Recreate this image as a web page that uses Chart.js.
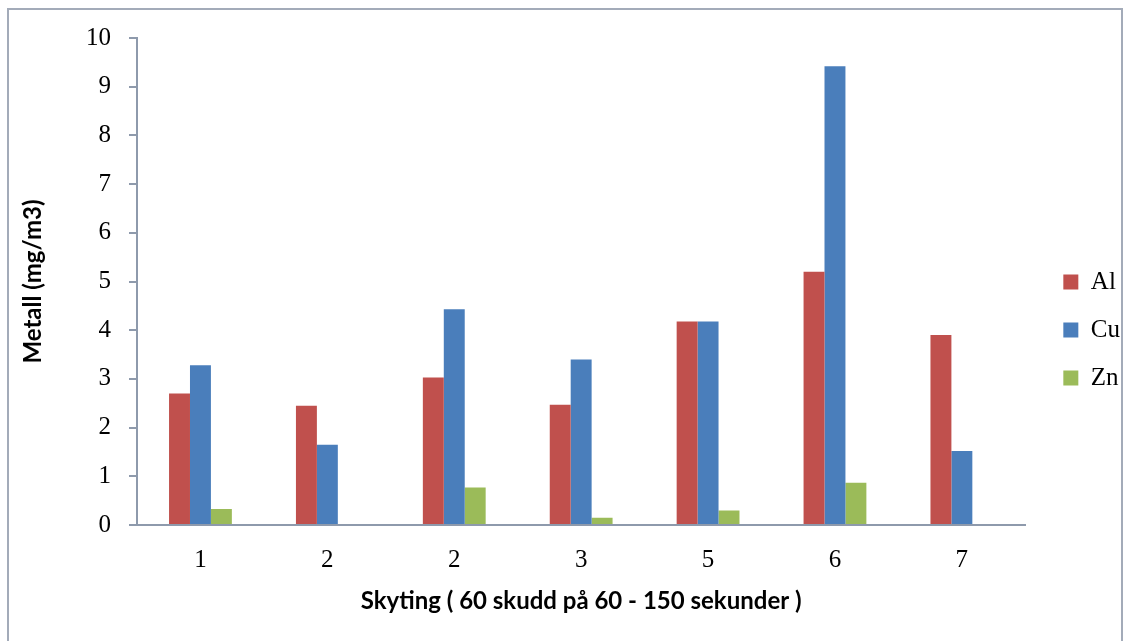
<!DOCTYPE html>
<html>
<head>
<meta charset="utf-8">
<script src="https://cdn.jsdelivr.net/npm/chart.js@4"></script>
<style>
  html, body { margin: 0; padding: 0; background: #fff; overflow: hidden; }
  #frame { position: absolute; left: 7px; top: 8px; width: 1112px; height: 700px; border: 2px solid #A3ABB9; }
  #wrap { position: absolute; left: 0; top: 0; width: 1130px; height: 641px; }
</style>
</head>
<body>
<div id="frame"></div>
<div id="wrap"><canvas id="myChart"></canvas></div>
<script>
const categories = ['1', '2', '2', '3', '5', '6', '7'];
const alValues = [2.70, 2.45, 3.03, 2.47, 4.18, 5.20, 3.90];
const cuValues = [3.28, 1.65, 4.43, 3.40, 4.18, 9.42, 1.52];
const znValues = [0.33, 0, 0.77, 0.15, 0.30, 0.87, 0];

const axisColor = '#8E9AAC';

function drawChart()
{
    const data = {
        labels: categories,
        datasets: [
            { label: 'Al', data: alValues, backgroundColor: '#C0504D' },
            { label: 'Cu', data: cuValues, backgroundColor: '#4A7EBB' },
            { label: 'Zn', data: znValues, backgroundColor: '#9BBB59' }
        ]
    };

    const config = {
        type: 'bar',
        data: data,
        options: {
            responsive: false,
            animation: false,
            layout: { padding: { left: 0, top: 38, right: 0, bottom: 19 } },
            datasets: {
                bar: { categoryPercentage: 0.495, barPercentage: 1.0 }
            },
            scales: {
                x: {
                    grid: { display: false, drawTicks: false },
                    border: { color: axisColor, width: 2 },
                    ticks: {
                        padding: 20,
                        color: '#000',
                        font: { size: 25, family: 'Liberation Serif' }
                    },
                    title: {
                        display: true,
                        text: 'Skyting ( 60 skudd på 60 - 150 sekunder )',
                        color: '#000',
                        font: { size: 24, weight: 'bold', family: 'Lato' },
                        padding: { top: 0, bottom: 6 }
                    },
                    afterFit: function(scale) { scale.height = 97; }
                },
                y: {
                    min: 0,
                    max: 10,
                    ticks: {
                        stepSize: 1,
                        padding: 18,
                        color: '#000',
                        font: { size: 25, family: 'Liberation Serif' }
                    },
                    grid: { drawOnChartArea: false, tickLength: 8, color: axisColor, lineWidth: 2 },
                    border: { color: axisColor, width: 2 },
                    title: {
                        display: true,
                        text: 'Metall (mg/m3)',
                        color: '#000',
                        font: { size: 24, weight: 'bold', family: 'Lato' },
                        padding: { top: 19, bottom: 0 }
                    },
                    afterFit: function(scale) { scale.width = 137; }
                },
                spacer: {
                    position: 'right',
                    display: true,
                    grid: { display: false },
                    border: { display: false },
                    ticks: { display: false },
                    afterFit: function(scale) { scale.width = 15; }
                }
            },
            plugins: {
                tooltip: { enabled: false },
                legend: {
                    position: 'right',
                    maxWidth: 92,
                    labels: {
                        boxWidth: 15,
                        boxHeight: 15,
                        padding: 23,
                        color: '#000',
                        font: { size: 25, family: 'Liberation Serif' }
                    }
                }
            }
        }
    };

    const myChart = new Chart(
        document.getElementById('myChart'),
        config
    );
}

document.getElementById('myChart').width = 1130;
document.getElementById('myChart').height = 641;
window.onload = drawChart;
</script>
</body>
</html>
